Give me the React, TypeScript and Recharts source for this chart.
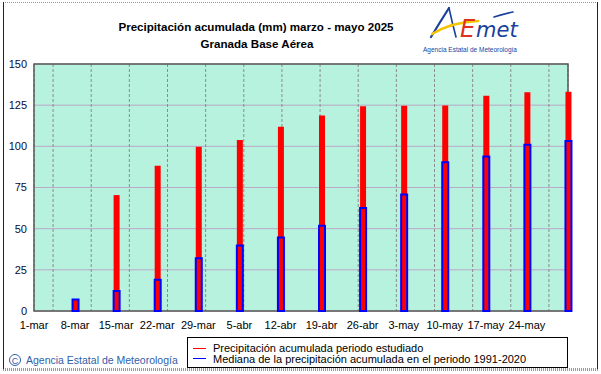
import React from "react";
import {
  ComposedChart,
  Bar,
  XAxis,
  YAxis,
  CartesianGrid,
  ReferenceArea,
} from "recharts";

const dates = [
  "1-mar", "8-mar", "15-mar", "22-mar", "29-mar", "5-abr", "12-abr",
  "19-abr", "26-abr", "3-may", "10-may", "17-may", "24-may", "31-may",
];
const tickLabels = [
  "1-mar", "8-mar", "15-mar", "22-mar", "29-mar", "5-abr", "12-abr",
  "19-abr", "26-abr", "3-may", "10-may", "17-may", "24-may",
];
const precipAcumulada = [0, 7, 70.4, 88.2, 99.7, 103.8, 111.9, 118.8, 124.4, 124.6, 124.8, 130.7, 132.9, 133.1];
const medianaAcumulada = [0, 7, 12.1, 19, 32.1, 39.8, 44.7, 51.7, 62.5, 70.8, 90.4, 93.9, 100.9, 103.2];
const yTicks = [0, 25, 50, 75, 100, 125, 150];
const seriesNames = [
  "Precipitación acumulada periodo estudiado",
  "Mediana de la precipitación acumulada en el periodo 1991-2020",
];
const titleLines = ["Precipitación acumulada (mm) marzo - mayo 2025", "Granada Base Aérea"];

const RED = "#ff0000";
const BLUE = "#0000ff";
const FONT = "'Liberation Sans', Arial, Helvetica, sans-serif";

const data = dates.map((d, i) => ({
  idx: i,
  date: d,
  precip: precipAcumulada[i],
  median: medianaAcumulada[i],
}));

const xTicks = tickLabels.map((_, i) => i);

export default function App() {
  return (
    <div
      style={{
        position: "absolute",
        left: 0,
        top: 0,
        width: 601,
        height: 374,
        background: "#ffffff",
        fontFamily: FONT,
      }}
    >
      <ComposedChart
        width={601}
        height={374}
        data={data}
        margin={{ top: 64, right: 33, bottom: 33, left: 0 }}
      >
        <CartesianGrid
          horizontal={true}
          vertical={false}
          stroke="#bba8c8"
          fill="#b6f2de"
          fillOpacity={1}
        />
        <CartesianGrid
          horizontal={false}
          vertical={true}
          stroke="#8c8c8c"
          strokeDasharray="3 2"
        />
        <XAxis
          xAxisId="a"
          dataKey="idx"
          type="number"
          domain={[0, dates.length - 1]}
          ticks={xTicks}
          interval={0}
          tickFormatter={(v: number) => tickLabels[v] ?? ""}
          axisLine={false}
          tickLine={false}
          tickMargin={4}
          height={30}
          tick={{ fill: "#000000", fontSize: 11, fontFamily: FONT }}
        />
        <XAxis
          xAxisId="b"
          dataKey="idx"
          type="number"
          domain={[0, dates.length - 1]}
          ticks={xTicks}
          hide
        />
        <YAxis
          type="number"
          domain={[0, 150]}
          ticks={yTicks}
          interval={0}
          width={34}
          axisLine={false}
          tickLine={false}
          tickMargin={1}
          tick={{ fill: "#0a0a30", fontSize: 11, fontFamily: FONT }}
        />
        <ReferenceArea
          xAxisId="a"
          x1={0}
          x2={dates.length - 1}
          y1={0}
          y2={150}
          fill="none"
          stroke="#5a5a5a"
          strokeWidth={1.5}
        />
        <Bar
          xAxisId="a"
          dataKey="precip"
          name={seriesNames[0]}
          fill={RED}
          barSize={6}
          isAnimationActive={false}
        />
        <Bar
          xAxisId="b"
          dataKey="median"
          name={seriesNames[1]}
          fill="none"
          stroke={BLUE}
          strokeWidth={2}
          barSize={6}
          isAnimationActive={false}
        />
      </ComposedChart>

      <svg
        width={601}
        height={374}
        style={{ position: "absolute", left: 0, top: 0, pointerEvents: "none" }}
      >
        {/* outer frame */}
        <line x1={3} y1={2.5} x2={597} y2={2.5} stroke="#999" strokeWidth={1} strokeDasharray="1 1" />
        <line x1={3} y1={369.5} x2={598} y2={369.5} stroke="#999" strokeWidth={3} strokeDasharray="1 1" />
        <line x1={3.5} y1={2} x2={3.5} y2={369} stroke="#222" strokeWidth={1} />
        <line x1={597.5} y1={2} x2={597.5} y2={369} stroke="#222" strokeWidth={1} />

        {/* title */}
        <text x={256} y={31} textAnchor="middle" fontFamily={FONT} fontWeight="bold" fontSize={11.6} fill="#000">
          {titleLines[0]}
        </text>
        <text x={257} y={47.5} textAnchor="middle" fontFamily={FONT} fontWeight="bold" fontSize={11.6} fill="#000">
          {titleLines[1]}
        </text>

        {/* AEMET logo */}
        <path d="M431 37 Q440 22 449 8" stroke="#1a3f9c" strokeWidth={2.2} fill="none" strokeLinecap="round" />
        <path d="M449 8 Q452 22 456 37" stroke="#1a3f9c" strokeWidth={1.6} fill="none" strokeLinecap="round" />
        <path d="M432 34 Q452 22 478 21" stroke="#f5c400" strokeWidth={2.6} fill="none" strokeLinecap="round" />
        <text x={460} y={37} fontFamily="'DejaVu Sans', sans-serif" fontStyle="italic" fontSize={24} fill="#e03020">E</text>
        <text x={476} y={37} fontFamily="'DejaVu Sans', sans-serif" fontStyle="italic" fontSize={21} fill="#1a3f9c">met</text>
        <path d="M494 17 Q504 14 513 12" stroke="#1a3f9c" strokeWidth={1.6} fill="none" strokeLinecap="round" />
        <text x={470} y={52} textAnchor="middle" fontFamily={FONT} fontSize={6.5} fill="#1a3f9c">
          Agencia Estatal de Meteorología
        </text>

        {/* legend */}
        <rect x={187.5} y={337.5} width={380} height={30} fill="#fff" stroke="#000" strokeWidth={1} />
        <line x1={193} y1={348.5} x2={206} y2={348.5} stroke={RED} strokeWidth={1} />
        <line x1={193} y1={358.5} x2={206} y2={358.5} stroke={BLUE} strokeWidth={1} />
        <text x={213} y={352} fontFamily={FONT} fontSize={11} fill="#000">{seriesNames[0]}</text>
        <text x={213} y={362.5} fontFamily={FONT} fontSize={11} fill="#000">{seriesNames[1]}</text>

        {/* copyright */}
        <circle cx={15} cy={360} r={5.5} stroke="#3060a8" strokeWidth={1} fill="none" />
        <text x={15} y={363.5} textAnchor="middle" fontFamily={FONT} fontSize={9} fill="#3060a8">C</text>
        <text x={26} y={364} fontFamily={FONT} fontSize={10.5} fill="#3060a8">Agencia Estatal de Meteorología</text>
      </svg>
    </div>
  );
}
